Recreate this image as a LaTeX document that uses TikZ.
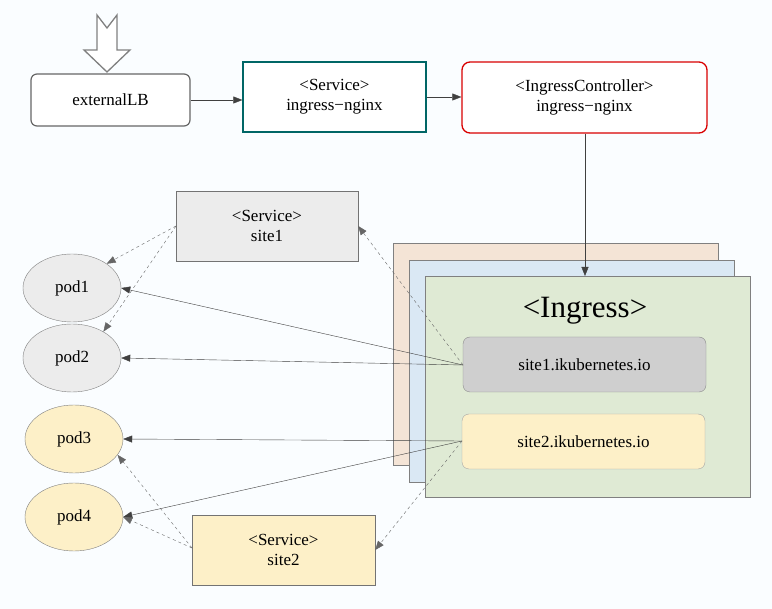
\documentclass[tikz,border=0pt]{standalone}
\usepackage{fontspec}
\setmainfont{Liberation Serif}
\usetikzlibrary{arrows.meta,shapes.geometric}
\definecolor{cgreen}{HTML}{DFEAD4}
\definecolor{cblue}{HTML}{DAE8F4}
\definecolor{corange}{HTML}{F4E4D6}
\definecolor{cyel}{HTML}{FDF0C8}
\definecolor{cgrey}{HTML}{CFCFCF}
\definecolor{cgrey2}{HTML}{ECECEC}
\begin{document}
\begin{tikzpicture}[x=1pt,y=-1pt,
  box/.style={draw,minimum width=#1,align=center,font=\fontsize{17}{20}\selectfont,inner sep=0pt},
  arr/.style={-{Triangle[length=9pt,width=7pt]},draw=black!75},
  darr/.style={arr,dashed,draw=black!60},
  pod/.style={ellipse,draw=black!50,minimum width=98pt,minimum height=68pt,font=\fontsize{17}{20}\selectfont}]
\useasboundingbox[fill=white] (0,0) rectangle (772,609);
\fill[cyan!2] (0,0) rectangle (772,609);
% hollow arrow
\draw[black!50,fill=white,line width=1.3pt] (97,15) -- (107,28) -- (117,15) -- (117,50) -- (130,50) -- (107,72) -- (84,50) -- (97,50) -- cycle;
\node[box=159pt,minimum height=52pt,rounded corners=6pt,draw=black!60,line width=1.2pt,fill=white] (elb) at (110.5,100) {externalLB};
\node[box=183pt,minimum height=70pt,draw=teal!80!black,line width=1.3pt,fill=white] (svc) at (334.5,97) {<Service>\\ingress−nginx};
\node[box=245pt,minimum height=71pt,rounded corners=8pt,draw=red!85!black,line width=1.3pt,fill=white] (ic) at (584.5,97.5) {<IngressController>\\ingress−nginx};
\draw[arr] (elb.east) -- (svc.west|-elb.east);
\draw[arr] (svc.east) -- (ic.west|-svc.east);
% cards
\draw[black!50,fill=corange] (393,243) rectangle (718,465);
\draw[black!50,fill=cblue] (409,260) rectangle (734,482);
\node[draw=black!50,fill=cgreen,minimum width=325pt,minimum height=221pt,inner sep=0pt] (ing) at (587.5,386.5) {};
\node[font=\fontsize{31}{34}\selectfont] (ingt) at (585,311) {<Ingress>};
\coordinate (ict) at (585,276);
\draw[arr] (ic.south-|ict) -- (ict);
\node[box=243pt,minimum height=55pt,rounded corners=7pt,draw=black!45,fill=cgrey] (s1io) at (584.5,364.5) {site1.ikubernetes.io};
\node[box=243pt,minimum height=55pt,rounded corners=7pt,draw=black!35,fill=cyel] (s2io) at (583.5,441.5) {site2.ikubernetes.io};
% services
\node[box=182pt,minimum height=70pt,draw=black!55,fill=cgrey2] (ss1) at (267,226) {<Service>\\site1};
\node[box=183pt,minimum height=70pt,draw=black!55,fill=cyel] (ss2) at (283.5,550) {<Service>\\site2};
% pods
\node[pod,fill=cgrey2] (p1) at (72,288) {pod1};
\node[pod,fill=cgrey2] (p2) at (72,358) {pod2};
\node[pod,fill=cyel] (p3) at (74,439) {pod3};
\node[pod,fill=cyel] (p4) at (74,517) {pod4};
% connectors
\coordinate (a1) at (463,365);
\coordinate (a2) at (462,441);
\coordinate (b1) at (176,226);
\coordinate (b2) at (192,548);
\draw[darr] (b1) -- (p1.35);
\draw[darr] (b1) -- (p2.40);
\draw[arr] (a1) -- (p1.east);
\draw[arr] (a1) -- (p2.east);
\draw[darr] (a1) -- (ss1.east);
\draw[arr] (a2) -- (p3.east);
\draw[arr] (a2) -- (p4.east);
\draw[darr] (a2) -- (ss2.east);
\draw[darr] (b2) -- (p4.east);
\draw[darr] (b2) -- (p3.-20);
\end{tikzpicture}
\end{document}
